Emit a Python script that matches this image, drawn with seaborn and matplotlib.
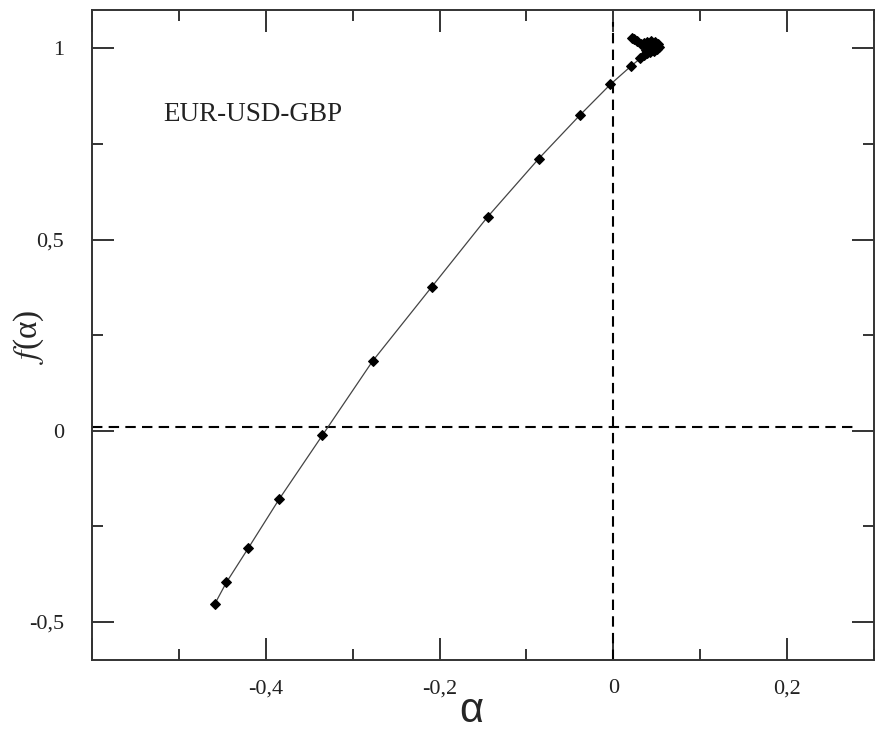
import matplotlib
matplotlib.use("Agg")
import matplotlib.pyplot as plt
from matplotlib.ticker import MultipleLocator, FuncFormatter
import seaborn as sns
import pandas as pd

# Multifractal spectrum f(alpha) for the EUR-USD-GBP series
alpha = [-0.4586, -0.4452, -0.4199, -0.3847, -0.3348, -0.277, -0.209, -0.1448,
         -0.0859, -0.0387, -0.0034, 0.0207,
         0.0310, 0.0356, 0.0391, 0.0425, 0.0471, 0.0506, 0.0529, 0.0517,
         0.0483, 0.0437, 0.0391, 0.0368, 0.0402, 0.0448, 0.0483, 0.0448,
         0.0402, 0.0425, 0.0460, 0.0494, 0.0379, 0.0356, 0.0322, 0.0276,
         0.0241, 0.0218]
f_alpha = [-0.4537, -0.397, -0.307, -0.180, -0.0123, 0.182, 0.376, 0.559,
           0.7115, 0.825, 0.906, 0.9546,
           0.9738, 0.9816, 0.9869, 0.9895, 0.9921, 0.9974, 1.0026, 1.0105,
           1.0157, 1.0184, 1.0157, 1.0079, 1.0026, 1.0000, 1.0052, 1.0079,
           1.0079, 0.9950, 0.9960, 1.0000, 0.9960, 1.0131, 1.0105, 1.0184,
           1.0236, 1.0262]

# Reference lines
h_ref = 0.0105
h_ref_span = [-0.6, 0.278]
v_ref = 0.0
v_ref_span = [-0.6, 1.07]

series_label = "EUR-USD-GBP"

df = pd.DataFrame({"alpha": alpha, "f": f_alpha})

sns.set_style("ticks")
plt.rcParams["font.family"] = ["Liberation Serif", "DejaVu Serif"]
plt.rcParams["mathtext.fontset"] = "stix"

fig = plt.figure(figsize=(8.75, 7.3), dpi=100)
ax = fig.add_axes([0.105, 0.096, 0.894, 0.890])

ax.plot(h_ref_span, [h_ref, h_ref], color="black", lw=1.5, dashes=(5, 3), zorder=1)
ax.plot([v_ref, v_ref], v_ref_span, color="black", lw=1.5, dashes=(5, 3), zorder=1)

sns.lineplot(data=df, x="alpha", y="f", sort=False, estimator=None, ax=ax,
             color="#444444", lw=0.9, marker="D", markersize=5,
             markerfacecolor="black", markeredgecolor="black", zorder=3)

ax.set_xlim(-0.6, 0.3)
ax.set_ylim(-0.6, 1.1)

ax.xaxis.set_major_locator(MultipleLocator(0.2))
ax.xaxis.set_minor_locator(MultipleLocator(0.1))
ax.yaxis.set_major_locator(MultipleLocator(0.5))
ax.yaxis.set_minor_locator(MultipleLocator(0.25))


def comma_fmt(v, pos):
    if abs(v) < 1e-9:
        return "0"
    if v < -0.55:
        return ""
    s = ("%.1f" % v).rstrip("0").rstrip(".")
    return s.replace(".", ",")


ax.xaxis.set_major_formatter(FuncFormatter(comma_fmt))
ax.yaxis.set_major_formatter(FuncFormatter(comma_fmt))

ax.tick_params(which="both", direction="in", top=True, right=True,
               color="#333333", width=1.4, labelsize=16, labelcolor="#222222")
ax.tick_params(which="major", length=16, pad=14)
ax.tick_params(which="minor", length=8)
ax.tick_params(axis="y", which="major", pad=20)

for sp in ax.spines.values():
    sp.set_linewidth(1.4)
    sp.set_color("#333333")

ax.set_xlabel("α", family=["Liberation Sans", "DejaVu Sans"], fontsize=30)
ax.xaxis.label.set_va("center")
ax.xaxis.set_label_coords(0.485, -0.078)

ax.set_ylabel(r"$f$(α)", fontsize=24)
ax.yaxis.label.set_va("center")
ax.yaxis.set_label_coords(-0.081, 0.497)

ax.text(-0.518, 0.81, series_label, fontsize=19.5, color="#222222",
        ha="left", va="baseline")

fig.savefig("out.png", dpi=100, facecolor="white")
